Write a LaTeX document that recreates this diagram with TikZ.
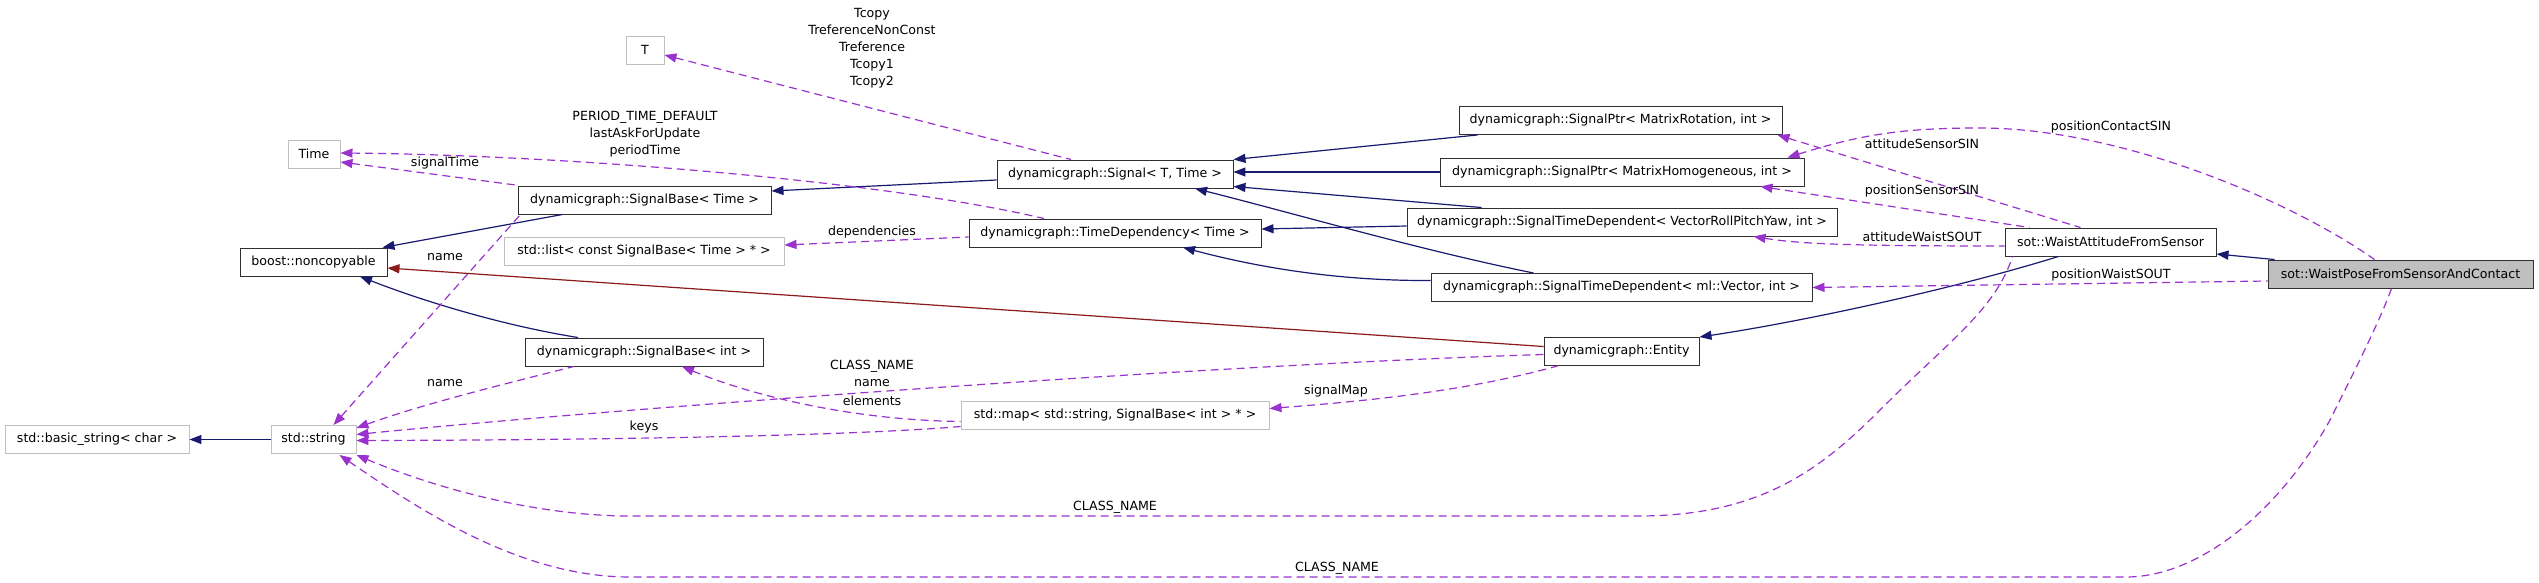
\documentclass[tikz,border=0pt]{standalone}
\usepackage{fontspec}
\setmainfont{DejaVu Sans}
\usetikzlibrary{arrows.meta,calc}
\definecolor{navy}{HTML}{191970}
\definecolor{darkred}{HTML}{8B1A1A}
\definecolor{orchid}{HTML}{9A32CD}
\definecolor{lgray}{HTML}{BFBFBF}
\definecolor{curfill}{HTML}{BFBFBF}
\definecolor{boxline}{HTML}{303030}
\newcommand{\lblfont}{\fontsize{12.6}{17}\selectfont}
\tikzset{
  clsbox/.style={draw=boxline, line width=0.95pt, fill=white, inner sep=0pt, minimum height=28pt, font=\lblfont, text=black},
  extbox/.style={clsbox, draw=lgray},
  curbox/.style={clsbox, fill=curfill},
  inh/.style={draw=navy, line width=1.2pt, {Triangle[length=12pt,width=9pt]}-},
  priv/.style={draw=darkred, line width=1.2pt, {Triangle[length=12pt,width=9pt]}-},
  usage/.style={draw=orchid, line width=1.2pt, dash pattern=on 8pt off 5pt, {Triangle[length=12pt,width=9pt]}-},
  lab/.style={font=\lblfont, inner sep=0pt, align=center, text=black},
}
\begin{document}
\begin{tikzpicture}[x=1pt,y=-1pt]
\fill[white] (0,0) rectangle (2539,583);
\useasboundingbox (0,0) rectangle (2539,583);

% nodes
\node[extbox, minimum width=52pt] (time) at (314,154) {Time};
\node[extbox, minimum width=38pt] (T) at (645,50) {T};
\node[clsbox, minimum width=147pt] (nc) at (313.5,262) {boost::noncopyable};
\node[extbox, minimum width=184pt] (bstr) at (97,439.5) {std::basic\_string< char >};
\node[extbox, minimum width=85pt] (str) at (313.5,439.5) {std::string};
\node[clsbox, minimum width=253pt] (sbt) at (644.5,200) {dynamicgraph::SignalBase< Time >};
\node[extbox, minimum width=280pt] (lst) at (644,251) {std::list< const SignalBase< Time > * >};
\node[clsbox, minimum width=238pt] (sbi) at (644,352) {dynamicgraph::SignalBase< int >};
\node[clsbox, minimum width=236pt] (sig) at (1115,174) {dynamicgraph::Signal< T, Time >};
\node[clsbox, minimum width=292pt] (td) at (1115,233) {dynamicgraph::TimeDependency< Time >};
\node[extbox, minimum width=308pt] (map) at (1115,415.5) {std::map< std::string, SignalBase< int > * >};
\node[clsbox, minimum width=323pt] (spr) at (1620.5,120.5) {dynamicgraph::SignalPtr< MatrixRotation, int >};
\node[clsbox, minimum width=364pt] (sph) at (1622,172) {dynamicgraph::SignalPtr< MatrixHomogeneous, int >};
\node[clsbox, minimum width=430pt] (stdv) at (1622,222) {dynamicgraph::SignalTimeDependent< VectorRollPitchYaw, int >};
\node[clsbox, minimum width=381pt] (stdm) at (1621.5,287.5) {dynamicgraph::SignalTimeDependent< ml::Vector, int >};
\node[clsbox, minimum width=155pt] (ent) at (1621.5,351.5) {dynamicgraph::Entity};
\node[clsbox, minimum width=211pt] (wa) at (2110.5,242) {sot::WaistAttitudeFromSensor};
\node[curbox, minimum width=265pt] (wp) at (2400.5,274) {sot::WaistPoseFromSensorAndContact};

% inheritance
\draw[inh] (bstr.east) -- (str.west);
\draw[inh] ($(nc.north east)+(-5,0)$) -- ($(sbt.south)+(-82,0)$);
\draw[inh] ($(nc.south)+(46.5,0)$) .. controls (420,300) and (500,325) .. ($(sbi.north)+(-66,0)$);
\draw[inh] ($(sbt.east)+(0,-9)$) -- ($(sig.west)+(0,6)$);
\draw[inh] (sig.north east) -- ($(spr.south west)+(19,0)$);
\draw[inh] ($(sig.east)+(0,-2)$) -- (sph.west);
\draw[inh] ($(sig.south east)+(0,-2)$) -- ($(stdv.north west)+(75,0)$);
\draw[inh] ($(sig.south)+(80,0)$) .. controls (1300,215) and (1420,250) .. ($(stdm.north west)+(103,0)$);
\draw[inh] ($(td.east)+(0,-4)$) -- ($(stdv.west)+(0,4)$);
\draw[inh] ($(td.south)+(68,0)$) .. controls (1260,268) and (1340,281) .. ($(stdm.west)+(0,-7)$);
\draw[inh] (ent.north east) .. controls (1800,322) and (1950,290) .. ($(wa.south)+(-52,0)$);
\draw[inh] ($(wa.east)+(0,12)$) -- ($(wp.north west)+(7,0)$);
\draw[priv] ($(nc.east)+(0,6)$) -- ($(ent.west)+(0,-5)$);

% usage
\draw[usage] ($(T.east)+(0,5)$) -- ($(sig.north)+(-44,0)$);
\draw[usage] ($(time.east)+(0,-1)$) .. controls (560,155) and (880,180) .. ($(td.north)+(-71,0)$);
\draw[usage] ($(time.east)+(0,8)$) -- ($(sbt.north west)+(2,0)$);
\draw[usage] ($(lst.east)+(0,-6)$) -- ($(td.west)+(0,4)$);
\draw[usage] ($(str.north)+(20,0)$) -- ($(sbt.south west)+(3,0)$);
\draw[usage] ($(str.north east)+(0,3)$) .. controls (420,405) and (500,385) .. ($(sbi.south)+(-70,0)$);
\draw[usage] ($(str.east)+(0,-5)$) .. controls (600,410) and (1200,365) .. ($(ent.west)+(0,3)$);
\draw[usage] ($(str.east)+(0,1)$) .. controls (600,440) and (850,436) .. ($(map.west)+(0,11)$);
\draw[usage] ($(sbi.south)+(38,0)$) .. controls (750,395) and (850,420) .. ($(map.west)+(0,6)$);
\draw[usage] ($(map.east)+(0,-7)$) .. controls (1380,400) and (1470,390) .. ($(ent.south west)+(14,0)$);
\draw[usage] ($(spr.south east)+(-5,0)$) -- ($(wa.north)+(-30,0)$);
\draw[usage] ($(sph.north east)+(-17,0)$) .. controls (1860,135) and (1900,128) .. (1980,128) .. controls (2120,128) and (2290,200) .. ($(wp.north)+(-26,0)$);
\draw[usage] ($(sph.south east)+(-44,0)$) -- ($(wa.north west)+(25,0)$);
\draw[usage] ($(stdv.south east)+(-84,0)$) .. controls (1800,244) and (1850,246) .. ($(wa.west)+(0,4)$);
\draw[usage] (stdm.east) -- ($(wp.west)+(0,7)$);
\draw[usage] ($(str.south east)+(0,1)$) .. controls (440,490) and (540,516) .. (630,516) -- (1638,516) .. controls (1760,516) and (1820,470) .. (1880,410) .. controls (1950,340) and (1995,310) .. ($(wa.south west)+(8,0)$);
\draw[usage] ($(str.south)+(26,1)$) .. controls (420,510) and (520,577) .. (630,577) -- (2126,577) .. controls (2200,577) and (2280,510) .. (2330,420) .. controls (2360,360) and (2380,320) .. ($(wp.south)+(-9,0)$);

% labels
\node[lab] (lT) at (872,48) {Tcopy\\TreferenceNonConst\\Treference\\Tcopy1\\Tcopy2};
\node[lab] (lP) at (645,134) {PERIOD\_TIME\_DEFAULT\\lastAskForUpdate\\periodTime};
\node[lab] (lST) at (445,163) {signalTime};
\node[lab] (lN1) at (445,257) {name};
\node[lab] (lN2) at (445,383) {name};
\node[lab] (lCN) at (872,373.5) {CLASS\_NAME\\name};
\node[lab] (lEl) at (872,401) {elements};
\node[lab] (lK) at (644,427) {keys};
\node[lab] (lSM) at (1336,391) {signalMap};
\node[lab] (lD) at (872,232) {dependencies};
\node[lab] (lAS) at (1922,144) {attitudeSensorSIN};
\node[lab] (lPS) at (1922,191) {positionSensorSIN};
\node[lab] (lAW) at (1922,237) {attitudeWaistSOUT};
\node[lab] (lPC) at (2111,127) {positionContactSIN};
\node[lab] (lPW) at (2111,275) {positionWaistSOUT};
\node[lab] (lC1) at (1115,507) {CLASS\_NAME};
\node[lab] (lC2) at (1337,568) {CLASS\_NAME};
\end{tikzpicture}
\end{document}
